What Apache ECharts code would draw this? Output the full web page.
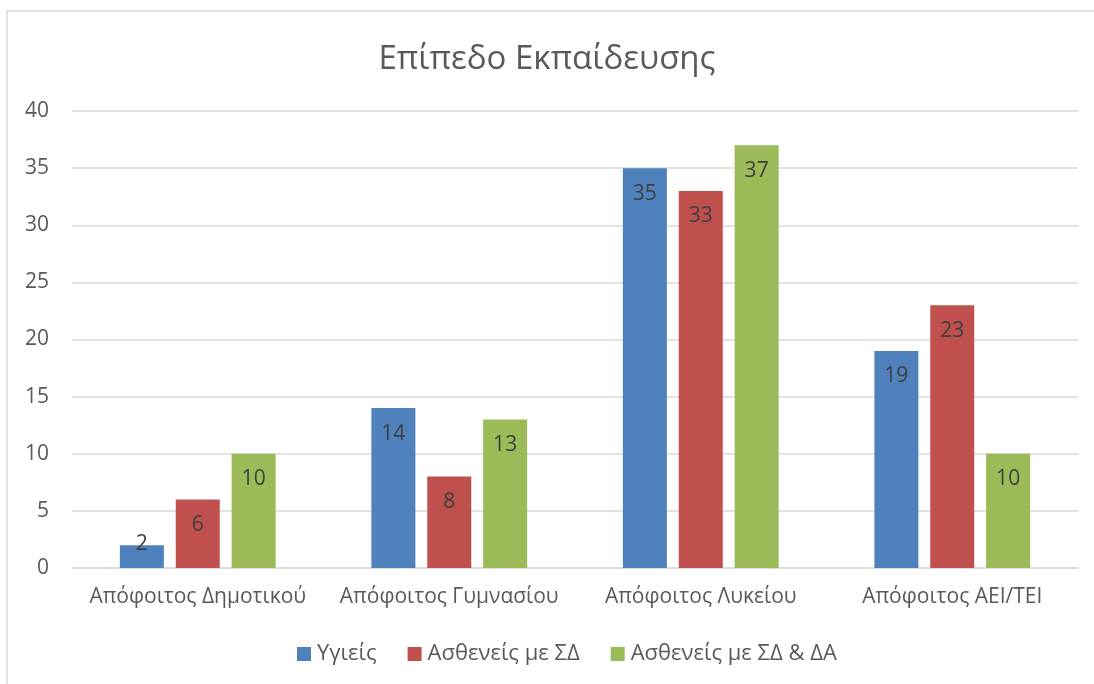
<!DOCTYPE html>
<html>
<head>
<meta charset="utf-8">
<script src="https://cdn.jsdelivr.net/npm/echarts@6/dist/echarts.min.js"></script>
<style>
  html, body { margin: 0; padding: 0; background: #ffffff; }
  #chart { width: 1094px; height: 684px; }
</style>
</head>
<body>
<div id="chart"></div>
<script>
// Education level by group
const categories = ['Απόφοιτος Δημοτικού', 'Απόφοιτος Γυμνασίου', 'Απόφοιτος Λυκείου', 'Απόφοιτος ΑΕΙ/ΤΕΙ'];
const seriesNames = ['Υγιείς', 'Ασθενείς με ΣΔ', 'Ασθενείς με ΣΔ & ΔΑ'];
const healthy = [2, 14, 35, 19];
const diabetes = [6, 8, 33, 23];
const diabetesDA = [10, 13, 37, 10];
const seriesColors = ['#4f81bd', '#c0504d', '#9bbb59'];

const font = '"Open Sans", "Noto Sans", sans-serif';
const chart = echarts.init(document.getElementById('chart'));

// Bars too short to hold their label keep it anchored at the base instead
function withLabelPlacement(values) {
  return values.map(function (v) {
    if (v < 4) {
      return { value: v, label: { position: 'insideBottom', distance: 13 } };
    }
    return v;
  });
}

function barSeries(name, data, color) {
  return {
    name: name,
    type: 'bar',
    data: withLabelPlacement(data),
    barWidth: 44,
    barGap: '27%',
    itemStyle: { color: color },
    label: {
      show: true,
      position: 'insideTop',
      distance: 15,
      color: '#404040',
      fontSize: 21,
      fontFamily: font
    }
  };
}

chart.setOption({
  animation: false,
  backgroundColor: '#ffffff',
  graphic: [{
    type: 'rect',
    shape: { x: 7, y: 11, width: 1200, height: 800 },
    style: { fill: 'none', stroke: '#d9d9d9', lineWidth: 1.5 },
    silent: true
  }],
  title: {
    text: 'Επίπεδο Εκπαίδευσης',
    left: 'center',
    top: 38,
    textStyle: { color: '#595959', fontSize: 33, fontWeight: 'normal', fontFamily: font }
  },
  legend: {
    data: seriesNames,
    top: 638,
    left: 292,
    icon: 'rect',
    itemWidth: 14,
    itemHeight: 14,
    itemGap: 31,
    textStyle: { color: '#595959', fontSize: 22, fontFamily: font, padding: [0, 0, 0, 1] }
  },
  grid: { left: 72, right: 16, top: 111, bottom: 116, containLabel: false },
  xAxis: {
    type: 'category',
    data: categories,
    axisLine: { lineStyle: { color: '#d9d9d9', width: 1.5 } },
    axisTick: { show: false },
    axisLabel: { color: '#595959', fontSize: 21, fontFamily: font, margin: 19, interval: 0 }
  },
  yAxis: {
    type: 'value',
    min: 0,
    max: 40,
    interval: 5,
    axisLine: { show: false },
    axisTick: { show: false },
    axisLabel: { color: '#595959', fontSize: 21, fontFamily: font, margin: 23 },
    splitLine: { lineStyle: { color: '#d9d9d9', width: 1.5 } }
  },
  series: [
    barSeries(seriesNames[0], healthy, seriesColors[0]),
    barSeries(seriesNames[1], diabetes, seriesColors[1]),
    barSeries(seriesNames[2], diabetesDA, seriesColors[2])
  ]
});
</script>
</body>
</html>
